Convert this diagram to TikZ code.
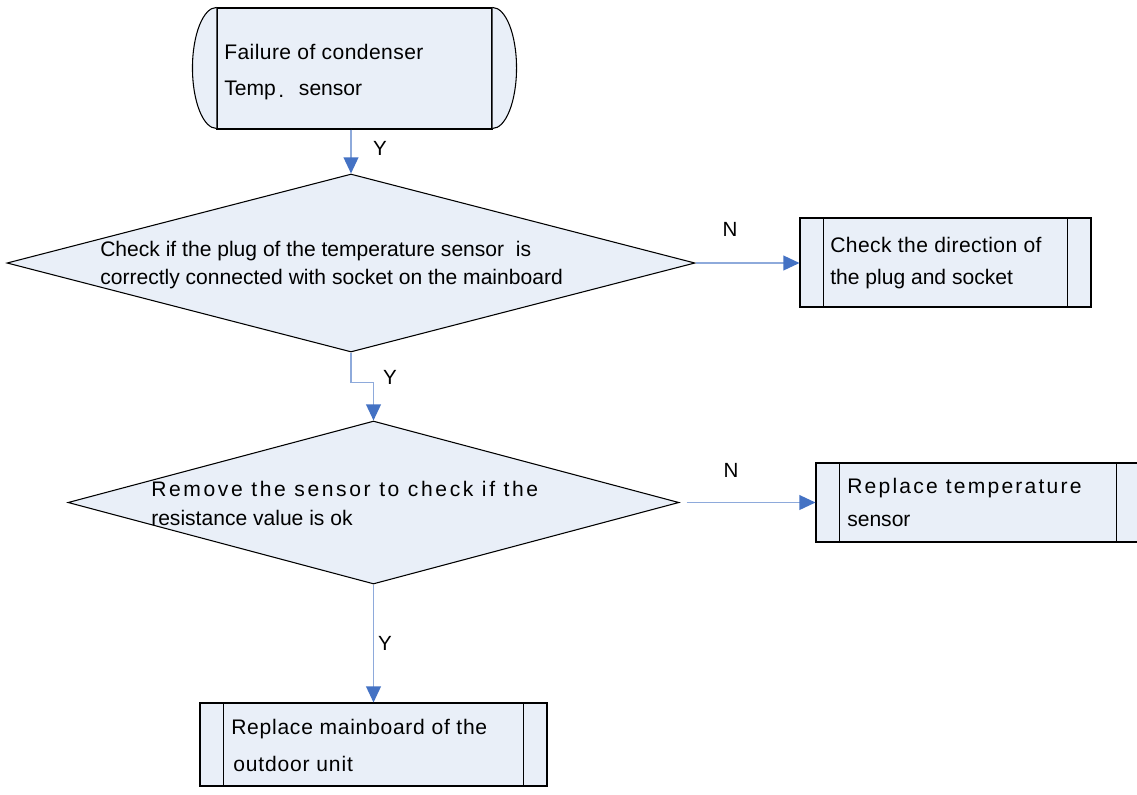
\documentclass[tikz,border=0pt]{standalone}
\usepackage{fontspec}
\setmainfont{Liberation Sans}
\usetikzlibrary{shapes.geometric,arrows.meta}
\definecolor{boxfill}{HTML}{E9EFF8}
\definecolor{shaft}{HTML}{8EAADB}
\definecolor{tipblue}{HTML}{4472C4}
\begin{document}
\begin{tikzpicture}[x=0.75pt,y=-0.75pt,
  box/.style={draw=black, line width=0.8pt, fill=boxfill, inner sep=0pt, rectangle},
  dia/.style={draw=black, line width=0.8pt, fill=boxfill, diamond, inner sep=0pt},
  edge/.style={draw=black, line width=0.8pt},
  txt/.style={anchor=base west, inner sep=0pt, font=\fontsize{15.8}{18}\selectfont},
  sptxt/.style={anchor=base west, inner sep=0pt, font=\fontsize{15.8}{18}\selectfont\addfontfeature{LetterSpace=#1}},
  lbl/.style={inner sep=0pt, font=\fontsize{15.4}{18}\selectfont},
  flow/.style={draw=shaft, line width=1.2pt, -{Triangle[length=12pt,width=11pt,color=tipblue,fill=tipblue]}}
]
\useasboundingbox (0,0) rectangle (1137,794);
\fill[white] (0,0) rectangle (1137,794);
\clip (0,0) rectangle (1137,794);

% start terminator
\node[box, minimum width=206.25pt, minimum height=90.75pt] (start) at (354.5,68.5) {};
\draw[edge, fill=boxfill] (start.north west) arc[start angle=90, end angle=270, x radius=18pt, y radius=45.375pt];
\draw[edge, fill=boxfill] (start.north east) arc[start angle=90, end angle=-90, x radius=18pt, y radius=45.375pt];
\node[sptxt=2] (t1a) at (224,59) {Failure of condenser};
\node[txt] (t1b) at (224,95) {Temp\hspace{2pt}\raisebox{-2pt}{.}\hspace{11pt}sensor};

% diamond 1
\node[dia, minimum width=516pt, minimum height=133.5pt] (d1) at (351,263) {};
\node[txt] (t2a) at (100,256) {Check if the plug of the temperature sensor\ \ is};
\node[txt] (t2b) at (100,284) {correctly connected with socket on the mainboard};

% box 1
\node[box, minimum width=218.25pt, minimum height=66.75pt] (b1) at (945.5,262.5) {};
\draw[edge] ([xshift=18pt]b1.north west) -- ([xshift=18pt]b1.south west);
\draw[edge] ([xshift=-18pt]b1.north east) -- ([xshift=-18pt]b1.south east);
\node[sptxt=2] (t3a) at (830,252) {Check the direction of};
\node[txt] (t3b) at (830,284) {the plug and socket};

% diamond 2
\node[dia, minimum width=458.25pt, minimum height=122.25pt] (d2) at (373.5,502.5) {};
\node[sptxt=12.5] (t4a) at (151,496) {Remove the sensor to check if the};
\node[txt] (t4b) at (151,525) {resistance value is ok};

% box 2
\node[box, minimum width=243pt, minimum height=59.25pt] (b2) at (978,502.5) {};
\draw[edge] ([xshift=18pt]b2.north west) -- ([xshift=18pt]b2.south west);
\draw[edge] ([xshift=-18pt]b2.north east) -- ([xshift=-18pt]b2.south east);
\node[sptxt=10.5] (t5a) at (847,493) {Replace temperature};
\node[txt] (t5b) at (847,526) {sensor};

% box 3
\node[box, minimum width=260.25pt, minimum height=62.25pt] (b3) at (373.5,744.5) {};
\draw[edge] ([xshift=18pt]b3.north west) -- ([xshift=18pt]b3.south west);
\draw[edge] ([xshift=-18pt]b3.north east) -- ([xshift=-18pt]b3.south east);
\node[sptxt=3.5] (t6a) at (231,734) {Replace mainboard of the};
\node[sptxt=4] (t6b) at (233,771) {outdoor unit};

% connectors
\draw[flow] (d1.north |- start.south) -- (d1.north);
\draw[flow] (d1.south) -- ++(0,30) -| (d2.north);
\draw[flow] (d1.east) -- (d1.east -| b1.west);
\draw[flow] ([xshift=5.25pt]d2.east) -- (d2.east -| b2.west);
\draw[flow] (d2.south) -- (b3.north);

% labels
\node[lbl] (y1) at (380,148) {Y};
\node[lbl] (n1) at (730,229) {N};
\node[lbl] (y2) at (390,377) {Y};
\node[lbl] (n2) at (731,470) {N};
\node[lbl] (y3) at (385,643) {Y};
\end{tikzpicture}
\end{document}
